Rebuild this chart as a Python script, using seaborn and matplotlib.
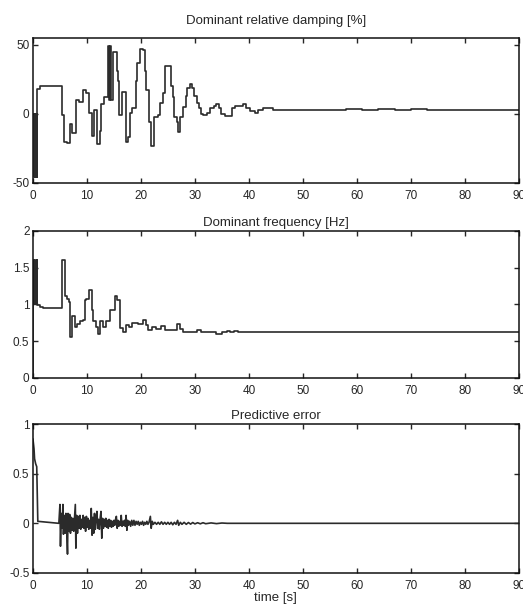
import numpy as np
import pandas as pd
import matplotlib
matplotlib.use("Agg")
import matplotlib.pyplot as plt
import seaborn as sns

# %% values (step start times and held values)
damp_t = [0, 0.15, 0.3, 0.45, 0.6, 0.7, 0.8, 1.3, 5.3, 5.8, 6.4, 6.9, 7.3, 7.9,
          8.5, 9.3, 9.8, 10.4, 10.9, 11.4, 11.8, 12.4, 12.6, 13.1, 13.9, 14.1, 14.3,
          14.5, 14.9, 15.5, 15.8, 16.0, 16.5, 17.2, 17.6, 18.0, 18.3,
          19.1, 19.3, 19.8, 20.4, 20.7, 21.0, 21.5, 21.8, 22.4, 23.2, 23.6, 24.0,
          24.4, 25.5, 25.9, 26.2, 26.6, 26.9, 27.3, 27.8, 28.3, 28.6, 29.1, 29.5,
          29.9, 30.3, 30.7, 31.1, 31.5, 32.2, 32.8, 33.5, 34.0, 34.5, 34.9, 35.5,
          36.8, 37.4, 38.9, 39.4, 40.2, 41.1, 41.7, 42.6, 44.5, 50, 55, 58, 61, 64,
          67, 70, 73, 76, 90]
damp_v = [0, -46, 0, -46, 0, -46, 18, 20, -1, -20, -21, -7, -14, 10,
          9, 17, 15.5, 1, -16, 3, -22, -12, 7, 12, 49, 10, 49,
          10, 45, 31, 24, -1, 16, -20, -17, 1, 4,
          24, 37, 47, 46, 31, 17, -6, -23, -2, -1, 8, 15,
          35, 20, 12, -2, -6, -13, -2, 5, 13, 19, 22, 19,
          13, 8, 4, 0, -1, 1, 4, 6, 7, 4.5, 0, -1.5,
          4, 5.5, 7, 4.5, 2, 1, 3, 4, 3, 3.2, 2.8, 3.3, 2.7, 3.4,
          2.8, 3.3, 2.9, 3, 3]

freq_t = [0, 0.1, 0.25, 0.4, 0.55, 0.7, 0.8, 1.3, 1.9, 5.3, 5.9, 6.4, 6.7,
          6.9, 7.3, 7.8, 8.2, 8.7, 9.2, 9.6, 9.9, 10.4, 10.9, 11.2, 11.7, 12.1, 12.5,
          13.0, 13.5, 14.3, 15.2, 15.6, 16.1, 16.7, 17.3, 17.8, 18.4, 19.5, 20.4,
          20.9, 21.4, 22.0, 22.8, 23.8, 24.4, 26.6, 27.2, 27.8, 29.7, 30.3, 31.2,
          31.8, 34.0, 35.0, 35.9, 36.5, 37.2, 38.0, 40.0, 90]
freq_v = [0, 1.6, 1.0, 1.6, 1.0, 1.6, 0.99, 0.96, 0.95, 1.61, 1.11, 1.07, 1.04,
          0.56, 0.84, 0.69, 0.73, 0.77, 0.79, 1.06, 1.07, 1.2, 0.93, 0.77, 0.70, 0.6, 0.77,
          0.69, 0.77, 0.92, 1.11, 1.06, 0.68, 0.63, 0.72, 0.69, 0.75, 0.74, 0.79,
          0.72, 0.65, 0.69, 0.66, 0.71, 0.65, 0.74, 0.66, 0.62, 0.63, 0.65, 0.62,
          0.63, 0.60, 0.63, 0.64, 0.63, 0.64, 0.63, 0.62, 0.62]

err_t = [0, 0.1, 0.2, 0.3, 0.5, 0.7, 0.8, 0.9, 4.8,
         5.0, 5.1, 5.25, 5.4, 5.55, 5.65, 5.8, 5.95, 6.1, 6.25, 6.4, 6.5, 6.65, 6.8,
         6.95, 7.1, 7.25, 7.4, 7.55, 7.7, 7.85, 7.95, 8.1, 8.25, 8.4, 8.55, 8.7, 8.85,
         9.0, 9.15, 9.3, 9.45, 9.6, 9.75, 9.9, 10.05, 10.2, 10.35, 10.5, 10.65, 10.8,
         10.95, 11.1, 11.25, 11.4, 11.55, 11.7, 11.85, 12.0, 12.15, 12.3, 12.45, 12.6,
         12.75, 12.9, 13.05, 13.2, 13.35, 13.5, 13.65, 13.8, 13.95, 14.1, 14.25, 14.4,
         14.55, 14.7, 14.85, 15.0, 15.15, 15.3, 15.45, 15.6, 15.75, 15.9, 16.05, 16.2,
         16.35, 16.5, 16.65, 16.8, 16.95, 17.1, 17.25, 17.4, 17.55, 17.7, 17.9, 18.1,
         18.3, 18.5, 18.7, 18.9, 19.1, 19.3, 19.5, 19.7, 19.9, 20.1, 20.3, 20.5, 20.7,
         20.9, 21.1, 21.3, 21.5, 21.75, 21.9, 22.1, 22.3, 22.6, 22.9, 23.2, 23.5, 23.8,
         24.1, 24.4, 24.7, 25.0, 25.3, 25.6, 25.9, 26.2, 26.5, 26.8, 27.0, 27.3, 27.6,
         28.0, 28.4, 28.8, 29.2, 29.6, 30.0, 30.5, 31.0, 31.5, 32.0, 33.0, 34.0, 35.0,
         36.0, 90]
err_v = [0.85, 0.8, 0.75, 0.65, 0.6, 0.57, 0.3, 0.02, 0.0,
         0.19, -0.23, 0.1, -0.05, 0.19, -0.11, 0.08, -0.1, 0.1, -0.06, -0.31, 0.1, -0.08, 0.09,
         -0.1, 0.06, -0.07, 0.05, -0.08, 0.05, 0.19, -0.25, 0.08, -0.1, 0.07, -0.05, 0.08, -0.06,
         0.04, -0.04, 0.08, -0.05, 0.06, -0.08, 0.07, -0.04, 0.05, -0.06, 0.03, -0.05, 0.15,
         -0.12, 0.06, -0.1, 0.1, -0.06, 0.05, 0.12, -0.05, 0.04, -0.06, 0.05, 0.12,
         -0.15, 0.05, -0.05, 0.04, -0.03, 0.05, -0.04, 0.03, -0.05, 0.04, -0.03, 0.03,
         -0.04, 0.02, -0.03, 0.03, -0.02, 0.04, 0.07, -0.05, 0.03, -0.03, 0.02, -0.02,
         0.08, -0.03, 0.02, -0.02, 0.03, -0.03, 0.08, -0.07, 0.03, -0.02, 0.02, -0.03,
         0.03, -0.02, 0.03, -0.02, 0.02, -0.01, 0.02, -0.02, 0.01, -0.01, 0.02, -0.02, 0.01,
         -0.01, 0.02, -0.01, 0.01, 0.07, -0.05, 0.02, -0.01, 0.01, -0.01, 0.01, -0.01, 0.015,
         -0.01, 0.01, -0.01, 0.01, -0.01, 0.01, -0.015, 0.01, -0.01, 0.03, -0.02, 0.01, -0.01,
         0.01, -0.01, 0.008, -0.008, 0.008, -0.006, 0.006, -0.005, 0.006, -0.004, 0.004, -0.003, 0.003,
         0.0, 0.0]

titles = ["Dominant relative damping [%]", "Dominant frequency [Hz]", "Predictive error"]
ylims = [(-50, 55), (0, 2), (-0.5, 1)]
yticks = [[-50, 0, 50], [0, 0.5, 1, 1.5, 2], [-0.5, 0, 0.5, 1]]
ytick_labels = [["-50", "0", "50"], ["0", "0.5", "1", "1.5", "2"], ["-0.5", "0", "0.5", "1"]]
xticks = list(range(0, 91, 10))

# %% style
sns.set_style("ticks")
plt.rcParams['font.family'] = ['Liberation Sans', 'DejaVu Sans']
plt.rcParams['axes.linewidth'] = 1.1
plt.rcParams['xtick.direction'] = 'in'
plt.rcParams['ytick.direction'] = 'in'

fig = plt.figure(figsize=(5.23, 6.13), dpi=100)
boxes = [[0.063, 0.7015, 0.929, 0.2365],
         [0.063, 0.3834, 0.929, 0.2398],
         [0.063, 0.0653, 0.929, 0.2430]]
pads = [10, 3.5, 3.5]

frames = [pd.DataFrame({"t": damp_t, "v": damp_v}),
          pd.DataFrame({"t": freq_t, "v": freq_v}),
          pd.DataFrame({"t": err_t, "v": err_v})]
styles = ["steps-post", "steps-post", "default"]

for i in range(3):
    ax = fig.add_axes(boxes[i])
    sns.lineplot(data=frames[i], x="t", y="v", ax=ax, color="#2b2b2b",
                 linewidth=1.2, drawstyle=styles[i], estimator=None)
    ax.set_xlim(0, 90)
    ax.set_ylim(*ylims[i])
    ax.set_xticks(xticks)
    ax.set_xticklabels([str(x) for x in xticks])
    ax.set_yticks(yticks[i])
    ax.set_yticklabels(ytick_labels[i])
    ax.tick_params(axis='both', which='major', labelsize=8.5, length=3.5, width=1,
                   top=True, right=True)
    ax.tick_params(axis='x', pad=5)
    ax.tick_params(axis='y', pad=2.5)
    for s in ax.spines.values():
        s.set_visible(True)
        s.set_color('#111111')
    ax.set_title(titles[i], fontsize=9.5, pad=pads[i])
    ax.set_ylabel("")
    ax.set_xlabel("")

ax.set_xlabel("time [s]", fontsize=9.5, labelpad=0)

fig.savefig("out.png", dpi=100)
